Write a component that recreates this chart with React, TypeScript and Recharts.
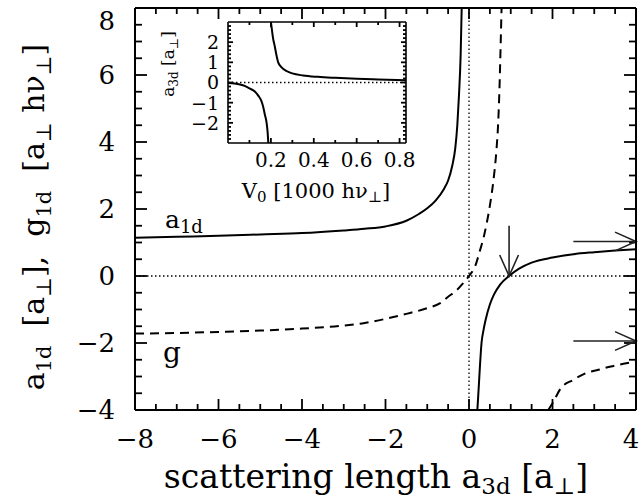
import { ComposedChart, LineChart, Line, XAxis, YAxis, ReferenceLine } from "recharts"

const FONT = "'DejaVu Serif', 'Liberation Serif', serif"

// main panel: a_1d (solid) and g_1d (dashed) vs a_3d, units of a_perp
const a1dLeftX = [-8, -7, -6, -5, -4, -3, -2.5, -2, -1.5, -1.2, -1, -0.8, -0.6, -0.5, -0.4, -0.33, -0.28, -0.24, -0.2, -0.175]
const a1dLeftY = [1.14, 1.17, 1.2, 1.24, 1.28, 1.36, 1.41, 1.48, 1.65, 1.85, 2.02, 2.25, 2.6, 2.85, 3.3, 3.8, 4.5, 5.4, 6.6, 8]
const a1dRightX = [0.2, 0.22, 0.25, 0.3, 0.35, 0.4, 0.5, 0.6, 0.75, 0.96, 1.2, 1.5, 2, 2.5, 3, 3.5, 4]
const a1dRightY = [-4, -3.6, -2.95, -2.0, -1.6, -1.3, -0.85, -0.55, -0.25, 0, 0.22, 0.4, 0.55, 0.65, 0.71, 0.76, 0.8]
const gLeftX = [-8, -7, -6, -5, -4, -3, -2.5, -2, -1.5, -1, -0.7, -0.5, -0.3, -0.15, 0, 0.15, 0.26, 0.35, 0.42, 0.5, 0.58, 0.66, 0.7, 0.73, 0.76, 0.78]
const gLeftY = [-1.72, -1.7, -1.67, -1.63, -1.57, -1.48, -1.4, -1.28, -1.13, -0.96, -0.82, -0.62, -0.43, -0.23, 0, 0.3, 0.75, 1.15, 1.55, 2.1, 2.8, 3.8, 4.6, 5.6, 7.0, 8]
const gRightX = [1.9, 2, 2.2, 2.5, 2.8, 3.1, 3.4, 3.7, 4]
const gRightY = [-4, -3.8, -3.35, -3.1, -2.9, -2.8, -2.7, -2.62, -2.55]

// arrows: resonance position and the two asymptotes
const arrows = [
  { x1: 0.96, y1: 1.5, x2: 0.96, y2: 0 },
  { x1: 2.5, y1: 1.03, x2: 4, y2: 1.03 },
  { x1: 2.5, y1: -1.94, x2: 4, y2: -1.94 },
]

// inset: a_3d vs V0 [1000 h nu_perp]
const insetUpX = [0.2, 0.205, 0.21, 0.218, 0.226, 0.234, 0.25, 0.273, 0.3, 0.35, 0.42, 0.5, 0.6, 0.7, 0.83]
const insetUpY = [3.0, 2.6, 2.2, 1.8, 1.35, 1.0, 0.75, 0.57, 0.45, 0.35, 0.28, 0.23, 0.18, 0.15, 0.11]
const insetLowX = [0, 0.03, 0.056, 0.08, 0.102, 0.125, 0.141, 0.155, 0.164, 0.172, 0.18, 0.185, 0.188]
const insetLowY = [-0.02, -0.05, -0.1, -0.18, -0.3, -0.45, -0.65, -0.9, -1.2, -1.6, -2.0, -2.5, -3.0]

const mainXMajor = [-8, -6, -4, -2, 0, 2, 4]
const mainYMajor = [-4, -2, 0, 2, 4, 6, 8]
const insetXMajor = [0.2, 0.4, 0.6, 0.8]
const insetYMajor = [-2, -1, 0, 1, 2]

const toPts = (xs: number[], ys: number[]) => xs.map((x, i) => ({ x, y: ys[i] }))
const steps = (lo: number, hi: number, st: number) => {
  const out: number[] = []
  for (let v = lo; v <= hi + 1e-9; v += st) out.push(Math.round(v * 1000) / 1000)
  return out
}
const minus = (s: string) => s.replace("-", "\u2212")
const fmtInt = (v: number) => minus(String(v))

function bottomLabel(size: number, dy: number, fmt: (v: number) => string, nudge?: (v: number) => number) {
  return (p: any) => {
    const v = Number(p.payload?.value)
    return (
      <text x={Number(p.x) + (nudge ? nudge(v) : 0)} y={Number(p.y) + dy} textAnchor="middle" fontSize={size} fontFamily={FONT} fill="#000">
        {fmt(v)}
      </text>
    )
  }
}
function leftLabel(size: number, dx: number, fmt: (v: number) => string, nudge?: (v: number) => number) {
  return (p: any) => {
    const v = Number(p.payload?.value)
    return (
      <text x={Number(p.x) - dx} y={Number(p.y) + size * 0.36 + (nudge ? nudge(v) : 0)} textAnchor="end" fontSize={size} fontFamily={FONT} fill="#000">
        {fmt(v)}
      </text>
    )
  }
}

// inward tick marks at both ends of an edge-to-edge segment
function tickPair(p: any, len: number) {
  const x1 = Number(p.x1), x2 = Number(p.x2), y1 = Number(p.y1), y2 = Number(p.y2)
  if (Math.abs(x1 - x2) < 0.01) {
    const top = Math.min(y1, y2)
    const bot = Math.max(y1, y2)
    return (
      <g stroke="#000" strokeWidth={1.8} fill="none">
        <line x1={x1} y1={top} x2={x1} y2={top + len} />
        <line x1={x1} y1={bot} x2={x1} y2={bot - len} />
      </g>
    )
  }
  const l = Math.min(x1, x2)
  const r = Math.max(x1, x2)
  return (
    <g stroke="#000" strokeWidth={1.8} fill="none">
      <line x1={l} y1={y1} x2={l + len} y2={y1} />
      <line x1={r} y1={y1} x2={r - len} y2={y1} />
    </g>
  )
}

function ArrowShape(p: any) {
  const { x1, y1, x2, y2 } = p
  const ang = Math.atan2(y2 - y1, x2 - x1)
  const L = 23
  const w = 0.42
  const h1 = { x: x2 - L * Math.cos(ang - w), y: y2 - L * Math.sin(ang - w) }
  const h2 = { x: x2 - L * Math.cos(ang + w), y: y2 - L * Math.sin(ang + w) }
  return (
    <g stroke="#222" strokeWidth={1.6} fill="none">
      <line x1={x1} y1={y1} x2={x2} y2={y2} />
      <polyline points={`${h1.x},${h1.y} ${x2},${y2} ${h2.x},${h2.y}`} />
    </g>
  )
}

function Rich({ parts, size, sub, shift }: { parts: [string, boolean][]; size: number; sub: number; shift: number }) {
  let cur = 0
  return (
    <>
      {parts.map(([t, isSub], i) => {
        const target = isSub ? shift : 0
        const dy = target - cur
        cur = target
        return (
          <tspan key={i} dy={dy} fontSize={isSub ? sub : size}>
            {t}
          </tspan>
        )
      })}
    </>
  )
}

const frame = { stroke: "#000", strokeWidth: 2 }
const frameIn = { stroke: "#000", strokeWidth: 1.6 }
const blank = () => <g />
const isIn = (arr: number[], v: number) => arr.some((m) => Math.abs(m - v) < 1e-6)

export default function App() {
  const mainXAll = steps(-7.5, 3.5, 0.5)
  const mainYAll = steps(-3.5, 7.5, 0.5)
  const insetXAll = steps(0.1, 0.8, 0.1)
  const insetYAll = steps(-2.8, 2.8, 0.2)
  const a1dL = toPts(a1dLeftX, a1dLeftY)
  const insetU = toPts(insetUpX, insetUpY)
  const mX = { dataKey: "x", type: "number" as const, domain: [-8, 4], allowDataOverflow: true, interval: 0 as const, tickMargin: 0, tickSize: 0, tickLine: false, height: 1 }
  const mY = { type: "number" as const, domain: [-4, 8], allowDataOverflow: true, interval: 0 as const, tickMargin: 0, tickSize: 0, tickLine: false, width: 1 }
  const iX = { dataKey: "x", type: "number" as const, domain: [0, 0.83], allowDataOverflow: true, interval: 0 as const, tickMargin: 0, tickSize: 0, tickLine: false, height: 1 }
  const iY = { type: "number" as const, domain: [-3, 3], allowDataOverflow: true, interval: 0 as const, tickMargin: 0, tickSize: 0, tickLine: false, width: 1 }

  return (
    <div style={{ position: "absolute", left: 0, top: 0, width: 641, height: 503, background: "#fff" }}>
      <div style={{ position: "absolute", left: 0, top: 0 }}>
        <ComposedChart width={641} height={503} margin={{ top: 7, right: 4, bottom: 92, left: 134 }}>
          <XAxis xAxisId={0} {...mX} ticks={mainXMajor} axisLine={frame} tick={bottomLabel(26, 38, fmtInt, (v) => (v === 4 ? -5 : 0))} />
          <XAxis xAxisId="top" orientation="top" {...mX} ticks={mainXMajor} axisLine={frame} tick={blank} />
          <YAxis yAxisId={0} {...mY} ticks={mainYMajor} axisLine={frame} tick={leftLabel(26, 20, fmtInt, (v) => (v === 8 ? 13 : 0))} />
          <YAxis yAxisId="right" orientation="right" {...mY} ticks={mainYMajor} axisLine={frame} tick={blank} />
          {mainXAll.map((v) => (
            <ReferenceLine key={`tx${v}`} segment={[{ x: v, y: -4 }, { x: v, y: 8 }]} ifOverflow="visible"
              shape={(p: any) => tickPair(p, isIn(mainXMajor, v) ? 11 : 6)} />
          ))}
          {mainYAll.map((v) => (
            <ReferenceLine key={`ty${v}`} segment={[{ x: -8, y: v }, { x: 4, y: v }]} ifOverflow="visible"
              shape={(p: any) => tickPair(p, isIn(mainYMajor, v) ? 12 : 7)} />
          ))}
          <ReferenceLine y={0} stroke="#000" strokeWidth={1.3} strokeDasharray="1.5 2.5" />
          <ReferenceLine x={0} stroke="#000" strokeWidth={1.3} strokeDasharray="1.5 2.5" />
          <Line data={a1dL} dataKey="y" xAxisId="top" yAxisId="right" stroke="none" dot={false} isAnimationActive={false} />
          <Line data={a1dL} dataKey="y" type="monotone" dot={false} stroke="#000" strokeWidth={2} isAnimationActive={false} />
          <Line data={toPts(a1dRightX, a1dRightY)} dataKey="y" type="monotone" dot={false} stroke="#000" strokeWidth={2} isAnimationActive={false} />
          <Line data={toPts(gLeftX, gLeftY)} dataKey="y" type="monotone" dot={false} stroke="#000" strokeWidth={2} strokeDasharray="9 6" isAnimationActive={false} />
          <Line data={toPts(gRightX, gRightY)} dataKey="y" type="monotone" dot={false} stroke="#000" strokeWidth={2} strokeDasharray="9 6" isAnimationActive={false} />
          {arrows.map((a, i) => (
            <ReferenceLine key={i} segment={[{ x: a.x1, y: a.y1 }, { x: a.x2, y: a.y2 }]} ifOverflow="visible" shape={ArrowShape} />
          ))}
        </ComposedChart>
      </div>

      <div style={{ position: "absolute", left: 0, top: 0 }}>
        <LineChart width={641} height={503} margin={{ top: 21, right: 234, bottom: 359, left: 227 }}>
          <XAxis xAxisId={0} {...iX} ticks={insetXMajor} axisLine={frameIn} tick={bottomLabel(20, 24, (v) => v.toFixed(1))} />
          <XAxis xAxisId="top" orientation="top" {...iX} ticks={insetXMajor} axisLine={frameIn} tick={blank} />
          <YAxis yAxisId={0} {...iY} ticks={insetYMajor} axisLine={frameIn} tick={leftLabel(19, 9, fmtInt)} />
          <YAxis yAxisId="right" orientation="right" {...iY} ticks={insetYMajor} axisLine={frameIn} tick={blank} />
          {insetXAll.map((v) => (
            <ReferenceLine key={`ix${v}`} segment={[{ x: v, y: -3 }, { x: v, y: 3 }]} ifOverflow="visible"
              shape={(p: any) => tickPair(p, isIn(insetXMajor, v) ? 5 : 3)} />
          ))}
          {insetYAll.map((v) => (
            <ReferenceLine key={`iy${v}`} segment={[{ x: 0, y: v }, { x: 0.83, y: v }]} ifOverflow="visible"
              shape={(p: any) => tickPair(p, isIn(insetYMajor, v) ? 5 : 3)} />
          ))}
          <ReferenceLine y={0} stroke="#000" strokeWidth={1.3} strokeDasharray="1.5 2.5" />
          <Line data={insetU} dataKey="y" xAxisId="top" yAxisId="right" stroke="none" dot={false} isAnimationActive={false} />
          <Line data={insetU} dataKey="y" type="monotone" dot={false} stroke="#000" strokeWidth={2} isAnimationActive={false} />
          <Line data={toPts(insetLowX, insetLowY)} dataKey="y" type="monotone" dot={false} stroke="#000" strokeWidth={2} isAnimationActive={false} />
        </LineChart>
      </div>

      <svg width={641} height={503} style={{ position: "absolute", left: 0, top: 0 }} fontFamily={FONT} fill="#000">
        <text transform="translate(44,217) rotate(-90)" textAnchor="middle" style={{ whiteSpace: "pre" }}>
          <Rich size={30} sub={21} shift={7}
            parts={[["a", false], ["1d", true], ["  [a", false], ["\u22a5", true], ["],  g", false], ["1d", true], ["  [a", false], ["\u22a5", true], [" h\u03bd", false], ["\u22a5", true], ["]", false]]} />
        </text>
        <text x={376} y={488} textAnchor="middle" style={{ whiteSpace: "pre" }}>
          <Rich size={33} sub={23} shift={6}
            parts={[["scattering length a", false], ["3d", true], [" [a", false], ["\u22a5", true], ["]", false]]} />
        </text>
        <text x={165} y={228} style={{ whiteSpace: "pre" }}>
          <Rich size={25} sub={18} shift={5} parts={[["a", false], ["1d", true]]} />
        </text>
        <text x={163} y={362} fontSize={28}>g</text>
        <text transform="translate(174,64) rotate(-90)" textAnchor="middle" style={{ whiteSpace: "pre" }}>
          <Rich size={17} sub={12} shift={4} parts={[["a", false], ["3d", true], [" [a", false], ["\u22a5", true], ["]", false]]} />
        </text>
        <text x={316} y={198} textAnchor="middle" style={{ whiteSpace: "pre" }}>
          <Rich size={21} sub={15} shift={4} parts={[["V", false], ["0", true], [" [1000 h\u03bd", false], ["\u22a5", true], ["]", false]]} />
        </text>
      </svg>
    </div>
  )
}
